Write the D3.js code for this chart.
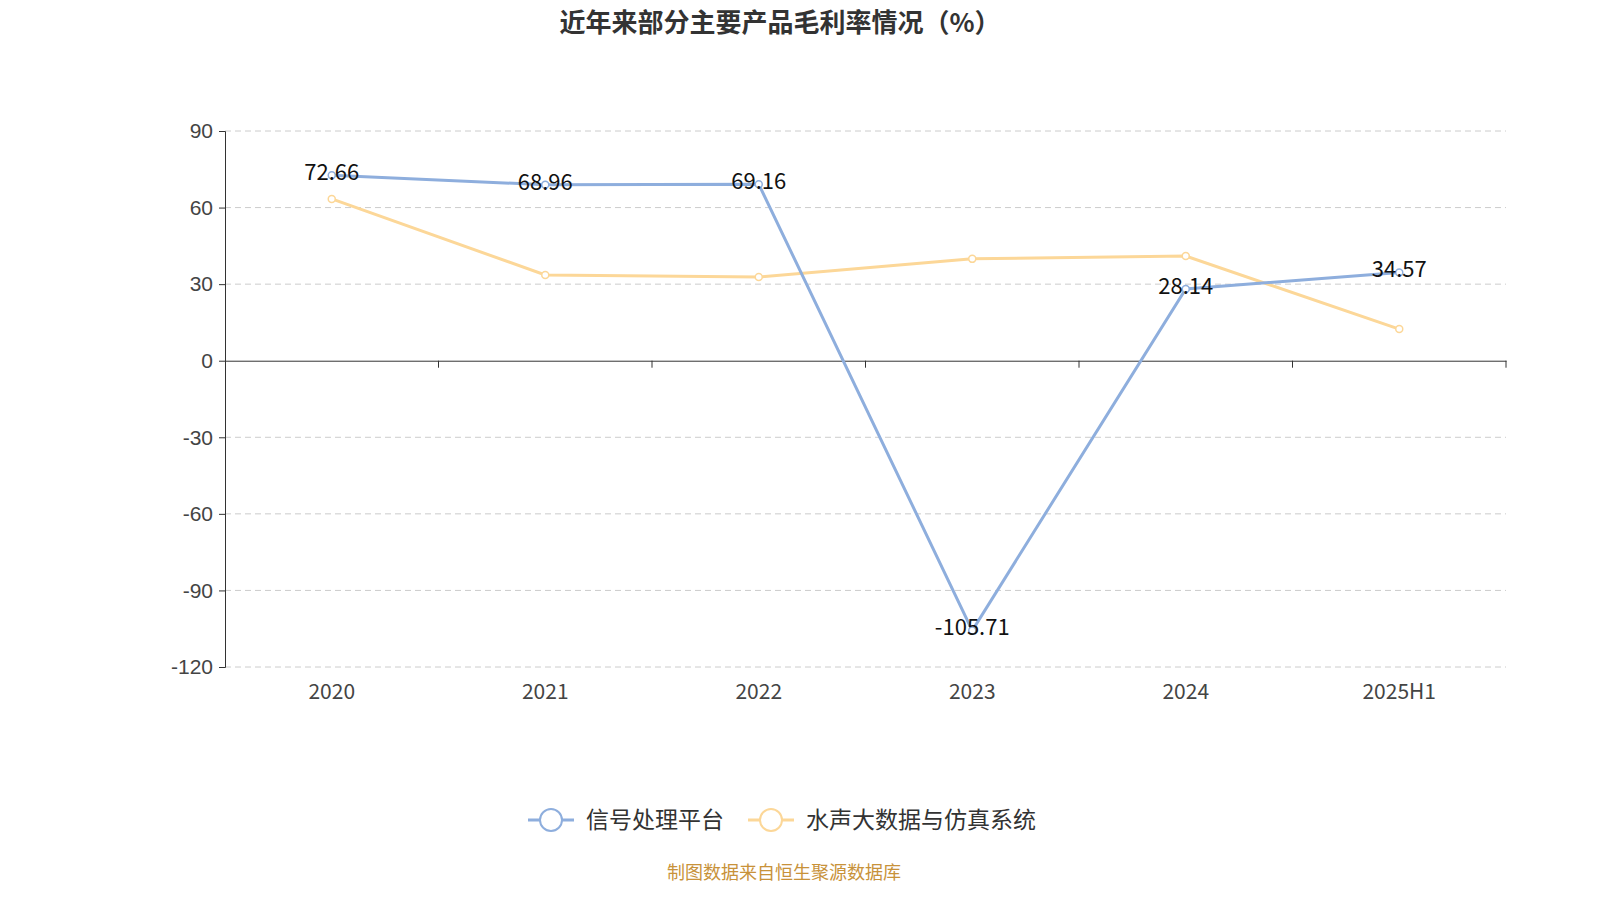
<!DOCTYPE html>
<html><head><meta charset="utf-8">
<script src="https://cdn.jsdelivr.net/npm/d3@7"></script>
<style>body{margin:0;background:#fff}svg{font-family:"Noto Sans CJK SC","Noto Sans",sans-serif}</style>
</head><body><svg id="c" width="1600" height="900"></svg>
<script>
const categories=["2020","2021","2022","2023","2024","2025H1"];
const seriesNames=["信号处理平台","水声大数据与仿真系统"];
const signalValues=[72.66,68.96,69.16,-105.71,28.14,34.57];
const sonarValues=[63.4,33.6,32.8,39.9,41.0,12.4];
const yTicks=[-120,-90,-60,-30,0,30,60,90];
const colors=["#8eaedd","#fcd798"];

const svg=d3.select("#c");
const x=d3.scaleBand().domain(categories).range([225,1506]);
const y=d3.scaleLinear().domain([-120,90]).range([667,131]);

svg.append("text").attr("x",780).attr("y",32).attr("text-anchor","middle")
 .attr("font-size",26).attr("font-weight","bold").attr("fill","#333").text("近年来部分主要产品毛利率情况（%）");

svg.append("g").selectAll("line").data(yTicks.filter(d=>d!==0)).join("line")
 .attr("x1",225).attr("x2",1506).attr("y1",d=>y(d)).attr("y2",d=>y(d))
 .attr("stroke","#ccc").attr("stroke-dasharray","6,4");

const ya=svg.append("g").attr("transform","translate(225,0)")
 .call(d3.axisLeft(y).tickValues(yTicks).tickSize(6).tickPadding(6).tickFormat(d=>String(d)));
ya.selectAll("text").attr("font-size",21).attr("fill","#444");
ya.selectAll("line,path").attr("stroke","#333");

const xa=svg.append("g").attr("transform",`translate(0,${y(0)})`)
 .call(d3.axisBottom(x).tickSize(0).tickFormat(""));
xa.select("path").attr("stroke","#333");
svg.append("g").selectAll("line").data(categories).join("line")
 .attr("x1",d=>x(d)+x.bandwidth()).attr("x2",d=>x(d)+x.bandwidth())
 .attr("y1",y(0)).attr("y2",y(0)+7).attr("stroke","#333");
svg.append("g").selectAll("text").data(categories).join("text")
 .attr("x",d=>x(d)+x.bandwidth()/2).attr("y",699).attr("text-anchor","middle")
 .attr("font-size",21).attr("fill","#444").text(d=>d);

const cx=d=>x(d)+x.bandwidth()/2;
const line=d3.line().x((d,i)=>cx(categories[i])).y(d=>y(d));
[sonarValues,signalValues].forEach((vals,k)=>{
 const c=k===0?colors[1]:colors[0];
 svg.append("path").datum(vals).attr("d",line).attr("fill","none").attr("stroke",c).attr("stroke-width",3);
 svg.append("g").selectAll("circle").data(vals).join("circle")
  .attr("cx",(d,i)=>cx(categories[i])).attr("cy",d=>y(d)).attr("r",3.5)
  .attr("fill","#fff").attr("stroke",c).attr("stroke-width",1.5);
});
svg.append("g").selectAll("text").data(signalValues).join("text")
 .attr("x",(d,i)=>cx(categories[i])).attr("y",d=>y(d)-1)
 .attr("text-anchor","middle").attr("font-size",22).attr("fill","#111")
 .attr("dominant-baseline","middle").text(d=>d.toFixed(2));

const lg=[{n:seriesNames[0],c:colors[0],x:528},{n:seriesNames[1],c:colors[1],x:748}];
lg.forEach(l=>{
 svg.append("line").attr("x1",l.x).attr("x2",l.x+46).attr("y1",820).attr("y2",820).attr("stroke",l.c).attr("stroke-width",3);
 svg.append("circle").attr("cx",l.x+23).attr("cy",820).attr("r",11).attr("fill","#fff").attr("stroke",l.c).attr("stroke-width",2);
 svg.append("text").attr("x",l.x+58).attr("y",828).attr("font-size",23).attr("fill","#333").text(l.n);
});
svg.append("text").attr("x",784).attr("y",879).attr("text-anchor","middle").attr("font-size",18)
 .attr("fill","#c8923a").text("制图数据来自恒生聚源数据库");
</script></body></html>
